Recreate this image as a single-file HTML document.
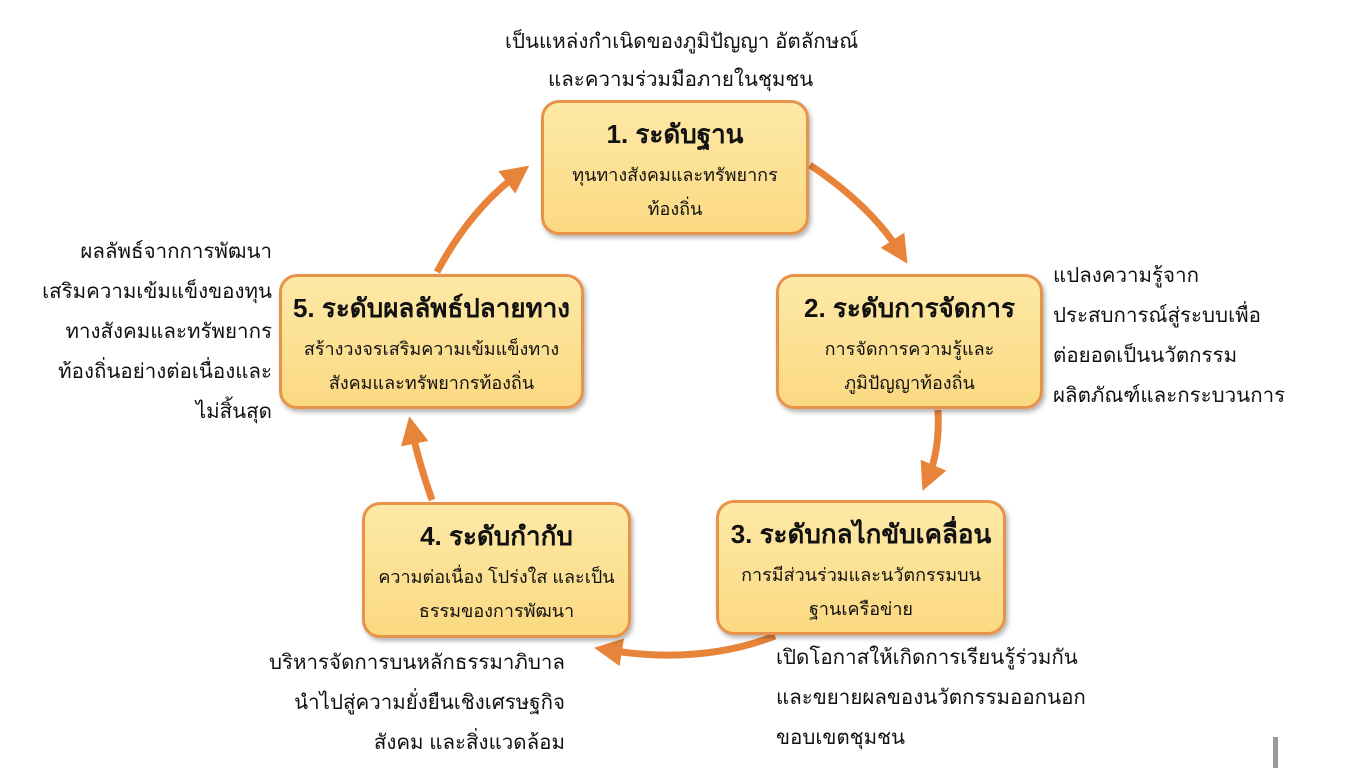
<!DOCTYPE html>
<html><head><meta charset="utf-8"><style>
body{margin:0;width:1365px;height:768px;background:#fff;position:relative;overflow:hidden;font-family:"Liberation Sans","DejaVu Sans",sans-serif;color:#111}
.b{position:absolute;box-sizing:border-box;background:linear-gradient(#fde9a6,#fbd982);border:3px solid #e7944a;border-radius:18px;text-align:center;box-shadow:2px 3px 5px rgba(0,0,0,.3)}
.b h{display:block;font-size:26px;font-weight:bold;margin-top:13px;line-height:36px}
.b p{margin:6px 0 0;font-size:18px;line-height:34px}
.t{position:absolute;font-size:20.5px;line-height:40px;white-space:nowrap}
</style></head><body>
<svg width="1365" height="768" style="position:absolute;left:0;top:0">
<defs><marker id="a" markerWidth="4" markerHeight="4" refX="2" refY="2" orient="auto"><path d="M0,0 L4,2 L0,4z" fill="#e8843a"/></marker></defs>
<g fill="none" stroke="#e8843a" stroke-width="7" marker-end="url(#a)">
<path d="M810,165 Q870,205 900,252"/>
<path d="M938,410 Q940,450 928,478"/>
<path d="M775,636 Q700,665 608,650"/>
<path d="M432,500 Q418,460 412,430"/>
<path d="M437,272 Q470,210 518,174"/>
</g></svg>
<div class="t" style="left:505px;top:22px">เป็นแหล่งกำเนิดของภูมิปัญญา อัตลักษณ์</div>
<div class="t" style="left:548px;top:60px">และความร่วมมือภายในชุมชน</div>
<div class="b" style="left:541px;top:100px;width:268px;height:135px"><h>1. ระดับฐาน</h><p>ทุนทางสังคมและทรัพยากร<br>ท้องถิ่น</p></div>
<div class="b" style="left:776px;top:274px;width:267px;height:135px"><h>2. ระดับการจัดการ</h><p>การจัดการความรู้และ<br>ภูมิปัญญาท้องถิ่น</p></div>
<div class="b" style="left:716px;top:500px;width:290px;height:135px"><h>3. ระดับกลไกขับเคลื่อน</h><p>การมีส่วนร่วมและนวัตกรรมบน<br>ฐานเครือข่าย</p></div>
<div class="b" style="left:362px;top:502px;width:269px;height:136px"><h>4. ระดับกำกับ</h><p>ความต่อเนื่อง โปร่งใส และเป็น<br>ธรรมของการพัฒนา</p></div>
<div class="b" style="left:279px;top:274px;width:305px;height:135px"><h>5. ระดับผลลัพธ์ปลายทาง</h><p>สร้างวงจรเสริมความเข้มแข็งทาง<br>สังคมและทรัพยากรท้องถิ่น</p></div>
<div class="t" style="left:1053px;top:256px">แปลงความรู้จาก<br>ประสบการณ์สู่ระบบเพื่อ<br>ต่อยอดเป็นนวัตกรรม<br>ผลิตภัณฑ์และกระบวนการ</div>
<div class="t" style="right:1093px;top:232px;text-align:right">ผลลัพธ์จากการพัฒนา<br>เสริมความเข้มแข็งของทุน<br>ทางสังคมและทรัพยากร<br>ท้องถิ่นอย่างต่อเนื่องและ<br>ไม่สิ้นสุด</div>
<div class="t" style="left:776px;top:638px">เปิดโอกาสให้เกิดการเรียนรู้ร่วมกัน<br>และขยายผลของนวัตกรรมออกนอก<br>ขอบเขตชุมชน</div>
<div class="t" style="right:800px;top:643px;text-align:right">บริหารจัดการบนหลักธรรมาภิบาล<br>นำไปสู่ความยั่งยืนเชิงเศรษฐกิจ<br>สังคม และสิ่งแวดล้อม</div>
<div style="position:absolute;left:1273px;top:737px;width:5px;height:31px;background:#999"></div>
</body></html>
